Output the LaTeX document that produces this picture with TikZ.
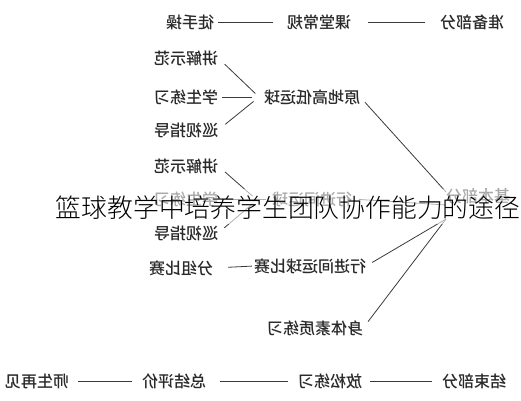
\documentclass[tikz,border=0pt]{standalone}
\usepackage{fontspec}
\usepackage{graphicx}
\newfontfamily\cjk{Noto Sans CJK SC Medium}
\newfontfamily\cjklight{Noto Sans CJK SC Light}
\definecolor{ink}{HTML}{2A2A2A}
\definecolor{wirec}{HTML}{3A3A3A}
\newcommand\mirtxt[1]{\reflectbox{#1}}
\begin{document}
\begin{tikzpicture}[x=1pt,y=-1pt,
  lbl/.style={inner sep=0pt, text=ink, font=\cjk\fontsize{16}{16}\selectfont},
  wire/.style={draw=wirec, line width=0.8pt},
  titlefont/.style={inner sep=0pt, text=black, font=\cjklight\fontsize{25.8}{26}\selectfont}]
\useasboundingbox (0,0) rectangle (521,400);
% top row
\node[lbl] (prep) at (472,22) {\mirtxt{准备部分}};
\node[lbl] (kt) at (319,22) {\mirtxt{课堂常规}};
\node[lbl] (tsc) at (190,22) {\mirtxt{徒手操}};
% group 1
\node[lbl] (yd) at (312,97) {\mirtxt{原地高低运球}};
\node[lbl] (jj1) at (186,58) {\mirtxt{讲解示范}};
\node[lbl] (xs1) at (186,97) {\mirtxt{学生练习}};
\node[lbl] (xz1) at (186,130) {\mirtxt{巡视指导}};
\coordinate (hubA) at (259,97);
% group 2
\node[lbl] (xj) at (312,199) {\mirtxt{行进间运球}};
\node[lbl] (jj2) at (186,166) {\mirtxt{讲解示范}};
\node[lbl] (xs2) at (186,199) {\mirtxt{学生练习}};
\node[lbl] (xz2) at (186,233) {\mirtxt{巡视指导}};
\coordinate (hubB) at (257,200);
% group 3
\node[lbl] (bs) at (310,266) {\mirtxt{行进间运球比赛}};
\node[lbl] (fz) at (181,268) {\mirtxt{分组比赛}};
\node[lbl] (st) at (315,328) {\mirtxt{身体素质练习}};
% basic part
\node[lbl] (jb) at (478,196) {\mirtxt{基本部分}};
\coordinate (hubT) at (446,192);
\coordinate (hubM) at (446,205);
\coordinate (hubL) at (446,219);
% bottom row
\node[lbl] (endp) at (474,381) {\mirtxt{结束部分}};
\node[lbl] (fs) at (330,381) {\mirtxt{放松练习}};
\node[lbl] (zj) at (174,381) {\mirtxt{总结评价}};
\node[lbl] (sz) at (37,381) {\mirtxt{师生再见}};
% connectors top/bottom
\draw[wire, shorten <=17pt, shorten >=15pt] (kt.east) -- (prep.west);
\draw[wire, shorten <=14pt, shorten >=4pt] (kt.west) -- (tsc.east);
\draw[wire, shorten <=10pt, shorten >=8pt] (endp.west) -- (fs.east);
\draw[wire, shorten <=10pt, shorten >=14pt] (fs.west) -- (zj.east);
\draw[wire, shorten <=10pt, shorten >=9pt] (zj.west) -- (sz.east);
% group 1 connectors
\draw[wire, shorten <=9pt, shorten >=5pt] (jj1.east) -- (hubA);
\draw[wire, shorten <=4pt, shorten >=7pt] (xs1.east) -- (hubA);
\draw[wire, shorten <=9pt, shorten >=7pt] (xz1.east) -- (hubA);
% group 2 connectors
\draw[wire, shorten <=9pt, shorten >=6pt] (jj2.east) -- (hubB);
\draw[wire, shorten <=4pt, shorten >=6pt] (xs2.east) -- (xj.west);
\draw[wire, shorten <=8pt, shorten >=6pt] (xz2.east) -- (hubB);
% group 3
\draw[wire, shorten <=15pt, shorten >=2pt] (fz.east) -- (bs.west);
% to basic part
\draw[wire, shorten <=7pt] (yd.east) -- (hubT);
\draw[wire, shorten <=7pt] (xj.east) -- (hubM);
\draw[wire, shorten <=7pt] (bs.east) -- (hubL);
\draw[wire, shorten <=8pt] (st.east) -- (hubL);
% overlay band and title
\fill[white, opacity=0.6] (150,189) rectangle (521,224);
\node[titlefont] (title) at (288,208) {篮球教学中培养学生团队协作能力的途径};
\end{tikzpicture}
\end{document}
